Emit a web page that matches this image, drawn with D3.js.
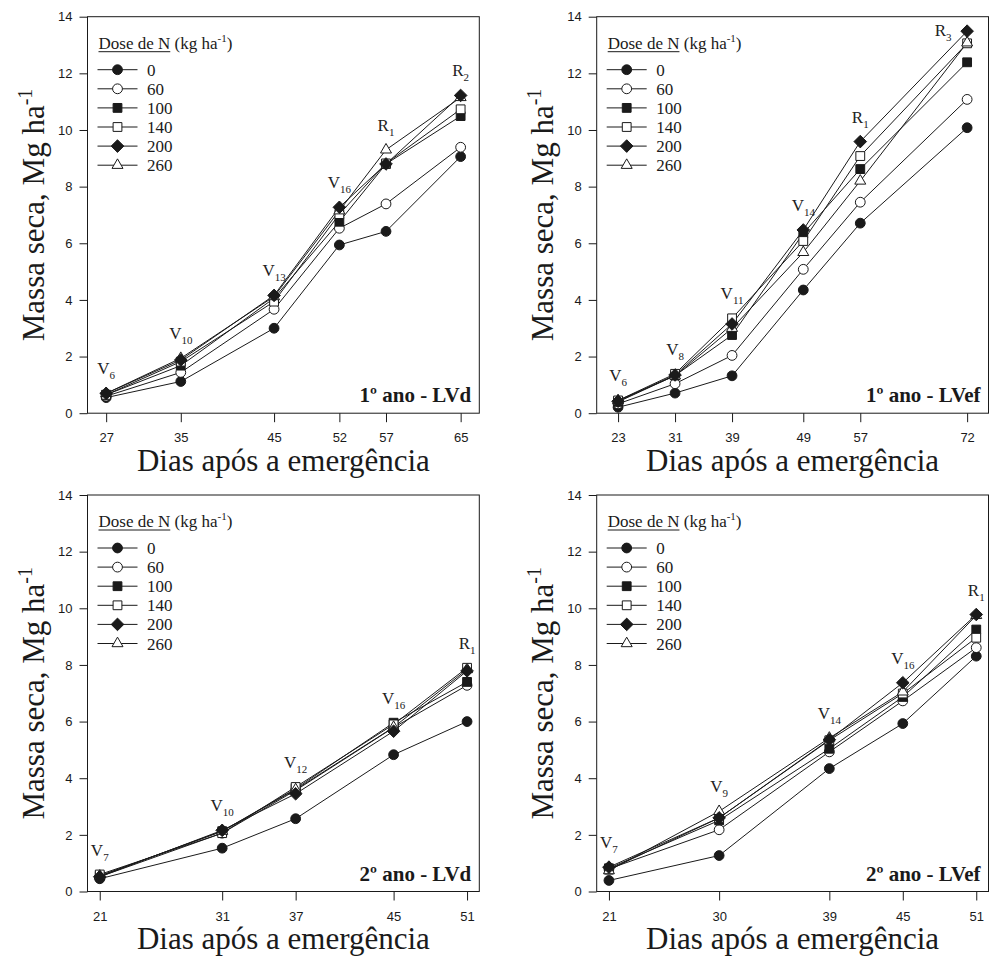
<!DOCTYPE html>
<html>
<head>
<meta charset="utf-8">
<script src="https://cdn.jsdelivr.net/npm/d3@7"></script>
<style>
  html, body { margin: 0; padding: 0; background: #fff; }
  svg { display: block; }
</style>
</head>
<body>
<svg id="chart" width="989" height="956"></svg>
<script>
// Doses de N (kg ha-1), one series per dose
const doses = ["0", "60", "100", "140", "200", "260"];
const yTicks = [0, 2, 4, 6, 8, 10, 12, 14];

// 1º ano - LVd
const dias1LVd = [27, 35, 45, 52, 57, 65];
const estadios1LVd = ["V6", "V10", "V13", "V16", "R1", "R2"];
const massa1LVd = [
  [0.55, 1.12, 3.00, 5.94, 6.42, 9.06],
  [0.60, 1.44, 3.67, 6.53, 7.39, 9.39],
  [0.65, 1.68, 4.06, 6.76, 8.80, 10.49],
  [0.65, 1.82, 3.94, 7.03, 8.82, 10.73],
  [0.70, 1.88, 4.16, 7.27, 8.80, 11.22],
  [0.70, 1.94, 4.12, 7.15, 9.30, 11.15]
];

// 1º ano - LVef
const dias1LVef = [23, 31, 39, 49, 57, 72];
const estadios1LVef = ["V6", "V8", "V11", "V14", "R1", "R3"];
const massa1LVef = [
  [0.21, 0.71, 1.32, 4.35, 6.71, 10.08],
  [0.33, 1.04, 2.04, 5.08, 7.45, 11.08],
  [0.40, 1.33, 2.76, 6.35, 8.62, 12.39],
  [0.45, 1.39, 3.35, 6.08, 9.08, 13.06],
  [0.42, 1.35, 3.15, 6.47, 9.59, 13.49],
  [0.45, 1.32, 3.00, 5.68, 8.20, 13.08]
];

// 2º ano - LVd
const dias2LVd = [21, 31, 37, 45, 51];
const estadios2LVd = ["V7", "V10", "V12", "V16", "R1"];
const massa2LVd = [
  [0.45, 1.53, 2.57, 4.83, 6.00],
  [0.52, 2.06, 3.57, 5.79, 7.28],
  [0.55, 2.13, 3.63, 5.96, 7.40],
  [0.60, 2.06, 3.69, 5.90, 7.90],
  [0.52, 2.16, 3.45, 5.66, 7.79],
  [0.55, 2.13, 3.60, 5.80, 7.84]
];

// 2º ano - LVef
const dias2LVef = [21, 30, 39, 45, 51];
const estadios2LVef = ["V7", "V9", "V14", "V16", "R1"];
const massa2LVef = [
  [0.39, 1.27, 4.34, 5.93, 8.31],
  [0.80, 2.18, 4.93, 6.73, 8.61],
  [0.82, 2.51, 5.04, 6.87, 9.25],
  [0.77, 2.60, 5.34, 6.99, 8.96],
  [0.86, 2.60, 5.36, 7.37, 9.78],
  [0.74, 2.83, 5.42, 7.05, 9.75]
];

const SERIF = "'Liberation Serif', 'Times New Roman', serif";
const SANS = "'Liberation Sans', Arial, sans-serif";
const INK = "#1a1a1a";

const panels = [
  { title: "1º ano - LVd",  dias: dias1LVd,  massa: massa1LVd,  estadios: estadios1LVd,  xDomain: [25, 67], left: 87.5,  top: 16.7 },
  { title: "1º ano - LVef", dias: dias1LVef, massa: massa1LVef, estadios: estadios1LVef, xDomain: [20, 75], left: 596.7, top: 16.7 },
  { title: "2º ano - LVd",  dias: dias2LVd,  massa: massa2LVd,  estadios: estadios2LVd,  xDomain: [20, 52], left: 87.5,  top: 495 },
  { title: "2º ano - LVef", dias: dias2LVef, massa: massa2LVef, estadios: estadios2LVef, xDomain: [20, 52], left: 596.7, top: 495 }
];
const W = 391.8, H = 396.5;

// marker shapes per dose: filled/open circle, square, diamond, triangle
const markers = [
  { shape: "circle", fill: INK },
  { shape: "circle", fill: "#fff" },
  { shape: "square", fill: INK },
  { shape: "square", fill: "#fff" },
  { shape: "diamond", fill: INK },
  { shape: "triangle", fill: "#fff" }
];
function markerPath(shape) {
  if (shape === "circle") return d3.symbol(d3.symbolCircle, Math.PI * 4.9 * 4.9)();
  if (shape === "square") return d3.symbol(d3.symbolSquare, 8.8 * 8.8)();
  if (shape === "diamond") { const r = 6.3; return `M0,${-r}L${r},0L0,${r}L${-r},0Z`; }
  const s = 11, h = s * Math.sqrt(3) / 2;
  return `M0,${-h * 2 / 3}L${s / 2},${h / 3}L${-s / 2},${h / 3}Z`;
}
// drawing order keeps diamonds on top
const drawOrder = [0, 1, 2, 3, 5, 4];

const svg = d3.select("#chart");

panels.forEach(p => {
  const x = d3.scaleLinear().domain(p.xDomain).range([p.left, p.left + W]);
  const y = d3.scaleLinear().domain([0, 14]).range([p.top + H, p.top]);
  const g = svg.append("g");

  // y axis
  const yAxis = g.append("g")
    .attr("transform", `translate(${p.left},0)`)
    .call(d3.axisLeft(y).tickValues(yTicks).tickSize(8).tickPadding(7).tickFormat(d3.format("d")));
  // x axis
  const xAxis = g.append("g")
    .attr("transform", `translate(0,${p.top + H})`)
    .call(d3.axisBottom(x).tickValues(p.dias).tickSize(9).tickPadding(11).tickFormat(d3.format("d")));
  [yAxis, xAxis].forEach(a => {
    a.select(".domain").remove();
    a.selectAll("line").attr("stroke", INK).attr("stroke-width", 1);
    a.selectAll("text").attr("font-family", SANS).attr("font-size", 13).attr("fill", INK);
  });

  // frame
  g.append("rect")
    .attr("x", p.left).attr("y", p.top).attr("width", W).attr("height", H)
    .attr("fill", "none").attr("stroke", INK).attr("stroke-width", 1);

  // series lines and markers
  const line = d3.line().x((d, i) => x(p.dias[i])).y(d => y(d));
  drawOrder.forEach(si => {
    g.append("path").datum(p.massa[si])
      .attr("d", line).attr("fill", "none").attr("stroke", INK).attr("stroke-width", 1);
  });
  drawOrder.forEach(si => {
    const m = markers[si];
    g.selectAll(null).data(p.massa[si]).enter().append("path")
      .attr("d", markerPath(m.shape))
      .attr("transform", (d, i) => `translate(${x(p.dias[i])},${y(d)})`)
      .attr("fill", m.fill).attr("stroke", INK).attr("stroke-width", 1);
  });

  // phenological stage above each sampling date
  p.dias.forEach((dia, i) => {
    const top = d3.max(p.massa, s => s[i]);
    let lx = x(dia), ly = y(top) - 19;
    if (ly < p.top + 20) { ly = p.top + 19; lx -= 24; }
    const t = g.append("text").attr("x", lx).attr("y", ly)
      .attr("text-anchor", "middle").attr("font-family", SERIF).attr("fill", "#222");
    t.append("tspan").attr("font-size", 17).text(p.estadios[i][0]);
    t.append("tspan").attr("font-size", 11).attr("dy", 5).text(p.estadios[i].slice(1));
  });

  // legend
  const lg = g.append("g").attr("transform", `translate(${p.left},${p.top})`);
  const head = lg.append("text").attr("x", 11).attr("y", 32)
    .attr("font-family", SERIF).attr("font-size", 17).attr("fill", INK);
  const headN = head.append("tspan").text("Dose de N");
  head.append("tspan").text(" (kg ha");
  head.append("tspan").attr("font-size", 11).attr("dy", -7).text("-1");
  head.append("tspan").attr("dy", 7).text(")");
  const nLen = headN.node().getComputedTextLength();
  lg.append("line").attr("x1", 11).attr("x2", 11 + nLen).attr("y1", 35).attr("y2", 35)
    .attr("stroke", INK).attr("stroke-width", 1);
  doses.forEach((d, i) => {
    const ry = 53 + i * 19.1;
    lg.append("line").attr("x1", 10).attr("x2", 50).attr("y1", ry).attr("y2", ry)
      .attr("stroke", INK).attr("stroke-width", 1);
    lg.append("path").attr("d", markerPath(markers[i].shape))
      .attr("transform", `translate(30,${ry})`)
      .attr("fill", markers[i].fill).attr("stroke", INK).attr("stroke-width", 1);
    lg.append("text").attr("x", 59.5).attr("y", ry + 6)
      .attr("font-family", SERIF).attr("font-size", 17).attr("fill", INK).text(d);
  });

  // panel tag
  g.append("text").attr("x", p.left + W - 8).attr("y", p.top + H - 11)
    .attr("text-anchor", "end").attr("font-family", SERIF).attr("font-weight", "bold")
    .attr("font-size", 21).attr("fill", INK).text(p.title);

  // axis titles
  g.append("text").attr("x", p.left + W / 2).attr("y", p.top + H + 57.5)
    .attr("text-anchor", "middle").attr("font-family", SERIF).attr("font-size", 31)
    .attr("fill", INK).text("Dias após a emergência");
  const yt = g.append("text")
    .attr("transform", `translate(${p.left - 44},${p.top + H / 2}) rotate(-90)`)
    .attr("text-anchor", "middle").attr("font-family", SERIF).attr("font-size", 31).attr("fill", INK);
  yt.append("tspan").text("Massa seca, Mg ha");
  yt.append("tspan").attr("font-size", 20).attr("dy", -12).text("-1");
});
</script>
</body>
</html>
